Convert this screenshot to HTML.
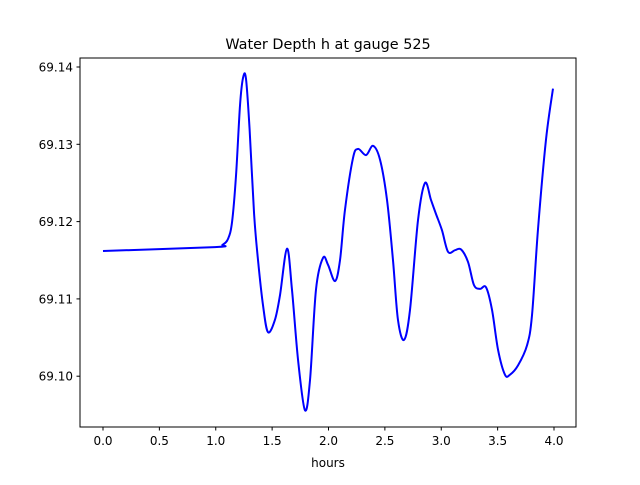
<!DOCTYPE html>
<html><head><meta charset="utf-8"><style>
body{margin:0;background:#fff;}
svg text{font-family:"DejaVu Sans","Liberation Sans",sans-serif;fill:#000;}
</style></head><body>
<svg id="chart" width="640" height="480" xmlns="http://www.w3.org/2000/svg">
<rect width="640" height="480" fill="#fff"/>
<text x="328" y="49" font-size="14.4" text-anchor="middle">Water Depth h at gauge 525</text>
<g id="xticks"></g><g id="yticks"></g>
<path id="line" fill="none" stroke="#0000ff" stroke-width="2" stroke-linejoin="round"/>
<rect x="80" y="58" width="496" height="369" fill="none" stroke="#000" stroke-width="1"/>
<text x="328" y="467" font-size="12" text-anchor="middle">hours</text>
</svg>
<script>
const hours=[0,0.993,1.06,1.11,1.145,1.18,1.215,1.242,1.268,1.30,1.34,1.375,1.419,1.463,1.525,1.570,1.632,1.676,1.730,1.791,1.836,1.889,1.951,1.996,2.058,2.102,2.146,2.217,2.262,2.333,2.395,2.457,2.519,2.572,2.616,2.670,2.723,2.794,2.856,2.909,2.953,3.006,3.060,3.122,3.175,3.237,3.290,3.344,3.397,3.450,3.504,3.565,3.610,3.681,3.761,3.805,3.858,3.929,3.991];
const depth=[69.1162,69.1167,69.1170,69.1178,69.1200,69.1260,69.1350,69.1386,69.1385,69.1320,69.1210,69.1150,69.1092,69.1057,69.1073,69.1105,69.1165,69.1112,69.1021,69.0956,69.0995,69.1112,69.1153,69.1144,69.1123,69.1150,69.1215,69.1282,69.1294,69.1286,69.1298,69.1280,69.1228,69.1150,69.1073,69.1047,69.1086,69.1202,69.1250,69.1228,69.1210,69.1189,69.1161,69.1163,69.1164,69.1148,69.1118,69.1113,69.1115,69.1086,69.1034,69.1002,69.1002,69.1014,69.1040,69.1079,69.1190,69.1306,69.1372];
const xTicks=[0,0.5,1,1.5,2,2.5,3,3.5,4];
const xTickLabels=["0.0","0.5","1.0","1.5","2.0","2.5","3.0","3.5","4.0"];
const yTicks=[69.10,69.11,69.12,69.13,69.14];
const yTickLabels=["69.10","69.11","69.12","69.13","69.14"];
const X=v=>103+v*112.75;
const Y=v=>67+(69.14-v)*7730;
const NS="http://www.w3.org/2000/svg";
const xg=document.getElementById('xticks'),yg=document.getElementById('yticks');
xTicks.forEach((t,i)=>{
 const l=document.createElementNS(NS,'line');
 
 
 l.setAttribute('x1',X(t));l.setAttribute('x2',X(t));l.setAttribute('y1',427);l.setAttribute('y2',430.5);l.setAttribute('stroke','#000');
 xg.appendChild(l);
 const tx=document.createElementNS(NS,'text');
 
 
 tx.setAttribute('x',X(t));tx.setAttribute('y',445);tx.setAttribute('font-size','12');tx.setAttribute('text-anchor','middle');
 tx.textContent=xTickLabels[i];xg.appendChild(tx);
});
yTicks.forEach((t,i)=>{
 const l=document.createElementNS(NS,'line');
 
 
 l.setAttribute('x1',76.5);l.setAttribute('x2',80);l.setAttribute('y1',Y(t));l.setAttribute('y2',Y(t));l.setAttribute('stroke','#000');
 yg.appendChild(l);
 const tx=document.createElementNS(NS,'text');
 
 
 tx.setAttribute('x',73);tx.setAttribute('y',Y(t)+4.5);tx.setAttribute('font-size','12');tx.setAttribute('text-anchor','end');
 tx.textContent=yTickLabels[i];yg.appendChild(tx);
});
const pts=hours.map((h,i)=>[X(h),Y(depth[i])]);
let d='M'+pts[0][0]+','+pts[0][1];
for(let i=0;i<pts.length-1;i++){
 const p0=pts[Math.max(0,i-1)],p1=pts[i],p2=pts[i+1],p3=pts[Math.min(pts.length-1,i+2)];
 const c1=[p1[0]+(p2[0]-p0[0])/6,p1[1]+(p2[1]-p0[1])/6];
 const c2=[p2[0]-(p3[0]-p1[0])/6,p2[1]-(p3[1]-p1[1])/6];
 d+=' C'+c1[0]+','+c1[1]+' '+c2[0]+','+c2[1]+' '+p2[0]+','+p2[1];
}
document.getElementById('line').setAttribute('d',d);
</script>
</body></html>
